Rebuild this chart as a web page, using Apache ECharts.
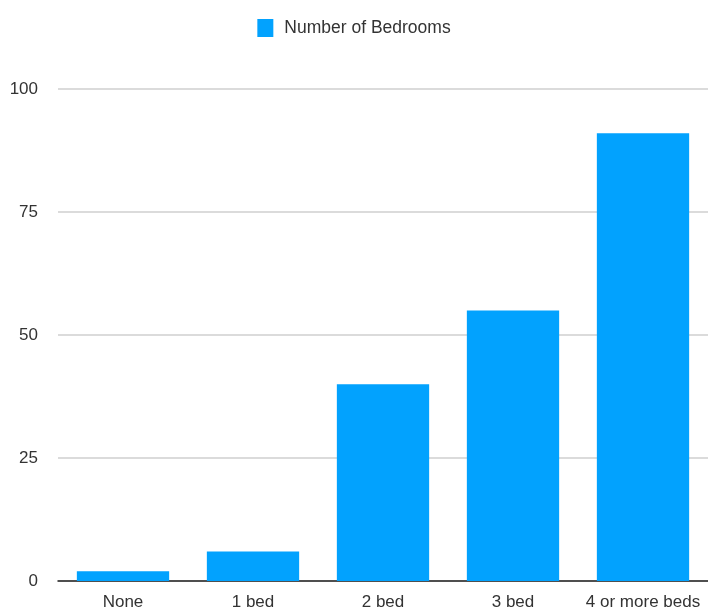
<!DOCTYPE html>
<html>
<head>
<meta charset="utf-8">
<script src="https://cdn.jsdelivr.net/npm/echarts@6/dist/echarts.min.js"></script>
<style>
  html, body { margin: 0; padding: 0; background: #fff; }
  #chart { width: 708px; height: 611px; }
</style>
</head>
<body>
<div id="chart"></div>
<script>
// Households by number of bedrooms
const categories = ['None', '1 bed', '2 bed', '3 bed', '4 or more beds'];
const bedroomCounts = [2, 6, 40, 55, 91];
const yTicks = [0, 25, 50, 75, 100];
const seriesName = 'Number of Bedrooms';

const chart = echarts.init(document.getElementById('chart'), null, { renderer: 'canvas' });
const fontFamily = '"Liberation Sans", Arial, sans-serif';

chart.setOption({
  animation: false,
  legend: {
    top: 14,
    left: 'center',
    itemWidth: 16,
    itemHeight: 18,
    itemGap: 10,
    icon: 'rect',
    textStyle: { fontFamily, fontSize: 17.5, color: '#333', padding: [0, 0, 0, 6] },
    data: [seriesName]
  },
  grid: { left: 58, right: 0, top: 89, bottom: 29, containLabel: false },
  xAxis: {
    type: 'category',
    data: categories,
    axisTick: { show: false },
    axisLine: { lineStyle: { color: '#222', width: 1.5 } },
    axisLabel: { fontFamily, fontSize: 17, color: '#333', margin: 13, interval: 0 }
  },
  yAxis: {
    type: 'value',
    min: yTicks[0],
    max: yTicks[yTicks.length - 1],
    interval: yTicks[1] - yTicks[0],
    axisLine: { show: false },
    axisTick: { show: false },
    axisLabel: { fontFamily, fontSize: 17, color: '#333', margin: 20 },
    splitLine: { lineStyle: { color: '#cfcfcf', width: 1.5 } }
  },
  series: [{
    name: seriesName,
    type: 'bar',
    data: bedroomCounts,
    barWidth: '71%',
    itemStyle: { color: '#02A2FE' }
  }]
});
</script>
</body>
</html>
